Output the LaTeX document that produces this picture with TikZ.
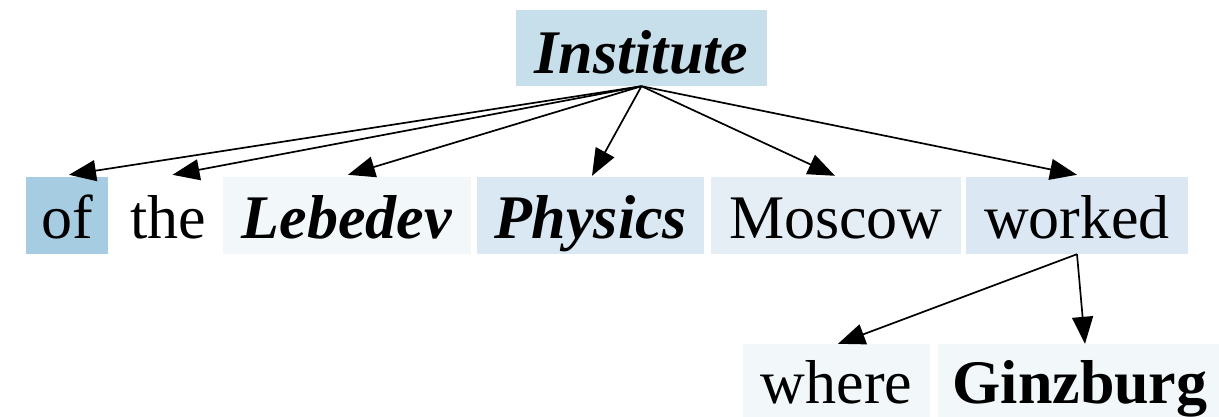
\documentclass[tikz,border=0pt]{standalone}
\usepackage{fontspec}
\setmainfont{Liberation Serif}
\usetikzlibrary{arrows.meta}
\definecolor{cInst}{HTML}{C7DEEB}
\definecolor{cOf}{HTML}{A6CCE2}
\definecolor{cLeb}{HTML}{F2F8FA}
\definecolor{cPhy}{HTML}{DAE8F4}
\definecolor{cMos}{HTML}{E6EEF5}
\definecolor{cWork}{HTML}{DBE8F4}
\definecolor{cWhere}{HTML}{F2F8F9}
\tikzset{
  word/.style={inner xsep=0pt, inner ysep=8pt, text height=53pt, text depth=8pt,
    font=\fontsize{62}{70}\selectfont, anchor=center},
  dep/.style={line width=1.7pt, -{Triangle[length=27pt,width=21pt]}},
}
\begin{document}
\begin{tikzpicture}[x=1pt,y=-1pt]
\useasboundingbox (0,0) rectangle (1219,416);
% head
\node[word, fill=cInst, minimum width=251pt, text height=55pt, text depth=5pt] (inst) at (641.5,48) {\textbf{\textit{Institute}}};
% row 1
\node[word, fill=cOf, minimum width=82pt] (of) at (67,215.5) {of};
\node[word] (the) at (168.5,215.5) {the};
\node[word, fill=cLeb, minimum width=248pt] (leb) at (347,215.5) {\textbf{\textit{Lebedev}}};
\node[word, fill=cPhy, minimum width=227pt] (phy) at (590.5,215.5) {\textbf{\textit{Physics}}};
\node[word, fill=cMos, minimum width=250pt] (mos) at (836,215.5) {Moscow};
\node[word, fill=cWork, minimum width=222pt] (work) at (1077,215.5) {worked};
% row 2
\node[word, fill=cWhere, minimum width=187pt, text height=51pt, text depth=10pt] (where) at (836.5,382.5) {where};
\node[word, fill=cWhere, minimum width=284pt, text height=51pt, text depth=10pt] (ginz) at (1080,382.5) {\textbf{Ginzburg}};
% arrows
\draw[dep] (inst.south) -- ([xshift=2pt,yshift=2pt]of.north);
\draw[dep] (inst.south) -- ([xshift=4pt,yshift=2pt]the.north);
\draw[dep] (inst.south) -- ([xshift=1pt,yshift=2pt]leb.north);
\draw[dep] (inst.south) -- ([xshift=1.5pt,yshift=1pt]phy.north);
\draw[dep] (inst.south) -- ([xshift=-1pt,yshift=1pt]mos.north);
\draw[dep] (inst.south) -- ([yshift=2pt]work.north);
\draw[dep] (work.south) -- ([xshift=1.5pt]where.north);
\draw[dep] (work.south) -- ([xshift=5pt]ginz.north);
\end{tikzpicture}
\end{document}
